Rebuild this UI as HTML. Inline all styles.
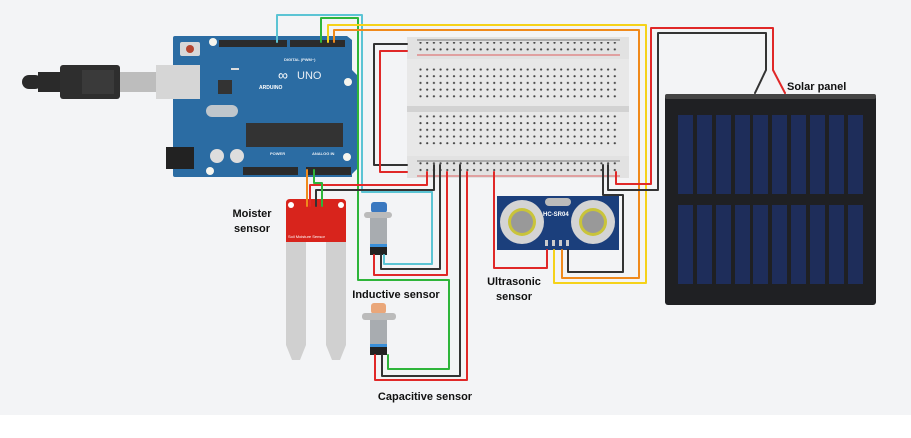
<!DOCTYPE html>
<html><head><meta charset="utf-8"><style>
html,body{margin:0;padding:0;background:#fff}
svg{display:block}
text{font-family:"Liberation Sans",sans-serif;font-weight:bold;fill:#111}
</style></head><body>
<svg width="911" height="438" viewBox="0 0 911 438" xmlns="http://www.w3.org/2000/svg">
<defs>
<pattern id="dots" x="418" y="0" width="6.7" height="6.7" patternUnits="userSpaceOnUse"><circle cx="2.5" cy="2.5" r="1.1" fill="#444"/></pattern>
</defs>
<rect x="0" y="0" width="911" height="415" fill="#f3f4f6"/>

<!-- USB cable -->
<rect x="22" y="75" width="20" height="14" rx="7" fill="#2a2a2a"/>
<rect x="38" y="72" width="22" height="20" fill="#2a2a2a"/>
<rect x="60" y="65" width="60" height="34" rx="3" fill="#2e2e2e"/>
<rect x="82" y="70" width="32" height="24" fill="#3a3a3a"/>
<rect x="120" y="72" width="36" height="20" fill="#bdbdbd"/>
<rect x="156" y="65" width="44" height="34" fill="#d6d6d6"/>

<!-- Arduino -->
<path d="M173 38 Q173 36 175 36 L347 36 L352 40 L352 70 L358 76 L358 168 L352 174 L352 177 L175 177 Q173 177 173 175 Z" fill="#2b6ca3"/>
<rect x="156" y="65" width="44" height="34" fill="#d6d6d6"/>
<rect x="180" y="42" width="20" height="14" rx="2" fill="#d8d8d8"/>
<circle cx="190" cy="49" r="4" fill="#b5452f"/>
<circle cx="213" cy="42" r="4" fill="#f5f5ee"/>
<circle cx="348" cy="82" r="4" fill="#f5f5ee"/>
<circle cx="347" cy="157" r="4" fill="#f5f5ee"/>
<circle cx="210" cy="171" r="4" fill="#f5f5ee"/>
<rect x="219" y="40" width="68" height="7" fill="#2b2b2b"/>
<rect x="290" y="40" width="55" height="7" fill="#2b2b2b"/>
<rect x="243" y="167" width="55" height="8" fill="#2b2b2b"/>
<rect x="306" y="167" width="45" height="8" fill="#2b2b2b"/>
<rect x="246" y="123" width="97" height="24" fill="#333"/>
<rect x="218" y="80" width="14" height="14" fill="#333"/>
<rect x="206" y="105" width="32" height="12" rx="6" fill="#bfc6cc"/>
<rect x="166" y="147" width="28" height="22" fill="#222"/>
<circle cx="217" cy="156" r="7" fill="#ddd"/><circle cx="237" cy="156" r="7" fill="#ddd"/>
<rect x="231" y="68" width="8" height="2" fill="#ddd"/>
<text x="278" y="80" font-size="14" style="fill:#fff;font-weight:normal">∞</text>
<text x="259" y="89" font-size="5" style="fill:#fff">ARDUINO</text>
<text x="297" y="79" font-size="11" style="fill:#e8eef5;font-weight:normal">UNO</text>
<text x="284" y="61" font-size="4" style="fill:#e8eef5">DIGITAL (PWM~)</text>
<text x="312" y="155" font-size="4" style="fill:#e8eef5">ANALOG IN</text>
<text x="270" y="155" font-size="4" style="fill:#e8eef5">POWER</text>

<!-- Breadboard -->
<rect x="407" y="37" width="222" height="141" fill="#e2e2e2"/>
<rect x="407" y="59" width="222" height="48" fill="#e8e8e8"/>
<rect x="407" y="112" width="222" height="44" fill="#e8e8e8"/>
<rect x="407" y="106" width="222" height="6" fill="#d2d2d2"/>
<line x1="417" y1="40" x2="620" y2="40" stroke="#555" stroke-width="0.8"/>
<line x1="417" y1="55" x2="620" y2="55" stroke="#d33" stroke-width="0.8"/>
<line x1="417" y1="161" x2="620" y2="161" stroke="#555" stroke-width="0.8"/>
<line x1="417" y1="176" x2="620" y2="176" stroke="#d33" stroke-width="0.8"/>
<rect x="418" y="42" width="201" height="13" fill="url(#dots)"/>
<rect x="418" y="68" width="201" height="33" fill="url(#dots)"/>
<rect x="418" y="115" width="201" height="33" fill="url(#dots)"/>
<rect x="418" y="162" width="201" height="13" fill="url(#dots)"/>

<!-- Solar panel -->
<rect x="665" y="94" width="211" height="211" rx="3" fill="#1f2023"/>
<rect x="665" y="94" width="211" height="5" rx="2" fill="#444"/>
<g fill="#1e2d5a">
<rect x="678" y="115" width="15" height="79"/><rect x="697" y="115" width="15" height="79"/><rect x="716" y="115" width="15" height="79"/><rect x="735" y="115" width="15" height="79"/><rect x="753" y="115" width="15" height="79"/><rect x="772" y="115" width="15" height="79"/><rect x="791" y="115" width="15" height="79"/><rect x="810" y="115" width="15" height="79"/><rect x="829" y="115" width="15" height="79"/><rect x="848" y="115" width="15" height="79"/>
<rect x="678" y="205" width="15" height="79"/><rect x="697" y="205" width="15" height="79"/><rect x="716" y="205" width="15" height="79"/><rect x="735" y="205" width="15" height="79"/><rect x="753" y="205" width="15" height="79"/><rect x="772" y="205" width="15" height="79"/><rect x="791" y="205" width="15" height="79"/><rect x="810" y="205" width="15" height="79"/><rect x="829" y="205" width="15" height="79"/><rect x="848" y="205" width="15" height="79"/>
</g>

<!-- Ultrasonic -->
<rect x="497" y="196" width="122" height="54" fill="#1b3f7c"/>
<rect x="545" y="198" width="26" height="8" rx="4" fill="#bbb"/>
<circle cx="522" cy="222" r="22" fill="#d4d4d4"/><circle cx="522" cy="222" r="14" fill="#c9c43a"/><circle cx="522" cy="222" r="11" fill="#999"/>
<circle cx="593" cy="222" r="22" fill="#d4d4d4"/><circle cx="593" cy="222" r="14" fill="#c9c43a"/><circle cx="593" cy="222" r="11" fill="#999"/>
<text x="543" y="216" font-size="6" style="fill:#fff">HC-SR04</text>
<g fill="#ccc"><rect x="545" y="240" width="3" height="6"/><rect x="552" y="240" width="3" height="6"/><rect x="559" y="240" width="3" height="6"/><rect x="566" y="240" width="3" height="6"/></g>

<!-- Moisture sensor -->
<path d="M286 203 Q286 199 290 199 L342 199 Q346 199 346 203 L346 242 L286 242 Z" fill="#d8241c"/>
<path d="M286 242 L306 242 L306 345 L300 360 L292 360 L286 345 Z" fill="#d0d0d0"/>
<path d="M326 242 L346 242 L346 345 L340 360 L332 360 L326 345 Z" fill="#d0d0d0"/>
<circle cx="291" cy="205" r="3" fill="#fff"/><circle cx="341" cy="205" r="3" fill="#fff"/>
<text x="288" y="238" font-size="4" style="fill:#fff;font-weight:normal">Soil Moisture Sensor</text>

<!-- Inductive sensor -->
<rect x="371" y="202" width="16" height="11" rx="3" fill="#3a78c0"/>
<rect x="364" y="212" width="28" height="6" rx="3" fill="#bbb"/>
<rect x="370" y="218" width="17" height="30" fill="#a8acb0"/>
<rect x="370" y="244" width="17" height="3" fill="#3a8fd8"/>
<rect x="370" y="247" width="17" height="8" fill="#222"/>
<!-- Capacitive sensor -->
<rect x="371" y="303" width="15" height="11" rx="3" fill="#eaa77a"/>
<rect x="362" y="313" width="34" height="7" rx="3" fill="#bbb"/>
<rect x="370" y="320" width="17" height="28" fill="#a8acb0"/>
<rect x="370" y="344" width="17" height="3" fill="#3a8fd8"/>
<rect x="370" y="347" width="17" height="8" fill="#222"/>

<!-- Wires -->
<g fill="none" stroke-width="2" stroke-linejoin="round" stroke-linecap="round">
<polyline stroke="#5bc4d4" points="277,42 277,15 362,15 362,192 432,192 432,264 384,264 384,255"/>
<polyline stroke="#2eb53a" points="321,42 321,18 358,18 358,280 449,280 449,369 388,369 388,355"/>
<polyline stroke="#f5d21a" points="328,42 328,25 646,25 646,283 554,283 554,250"/>
<polyline stroke="#f08a1c" points="334,42 334,30 639,30 639,278 562,278 562,250"/>
<polyline stroke="#333" points="407,44 374,44 374,165 407,165"/>
<polyline stroke="#e02828" points="407,51 380,51 380,172 407,172"/>
<polyline stroke="#e02828" points="427,172 427,185 310,185 310,206"/>
<polyline stroke="#333" points="434,165 434,190 316,190 316,206"/>
<polyline stroke="#f08a1c" points="307,170 307,206"/>
<polyline stroke="#2eb53a" points="314,170 314,183 322,183 322,206"/>
<polyline stroke="#e02828" points="447,172 447,275 374,275 374,255"/>
<polyline stroke="#333" points="440,165 440,269 381,269 381,255"/>
<polyline stroke="#e02828" points="467,172 467,380 375,380 375,355"/>
<polyline stroke="#333" points="460,165 460,376 382,376 382,355"/>
<polyline stroke="#e02828" points="494,172 494,268 547,268 547,250"/>
<polyline stroke="#333" points="603,165 603,195 623,195 623,272 568,272 568,250"/>
<polyline stroke="#e02828" points="616,172 616,184 651,184 651,28 773,28 773,70 785,93"/>
<polyline stroke="#333" points="608,165 608,190 658,190 658,33 766,33 766,70 755,93"/>
</g>

<!-- Labels -->
<text x="252" y="217" font-size="11" text-anchor="middle">Moister</text>
<text x="252" y="232" font-size="11" text-anchor="middle">sensor</text>
<text x="396" y="298" font-size="11" text-anchor="middle">Inductive sensor</text>
<text x="514" y="285" font-size="11" text-anchor="middle">Ultrasonic</text>
<text x="514" y="300" font-size="11" text-anchor="middle">sensor</text>
<text x="425" y="400" font-size="11" text-anchor="middle">Capacitive sensor</text>
<text x="787" y="90" font-size="11">Solar panel</text>
</svg>
</body></html>
